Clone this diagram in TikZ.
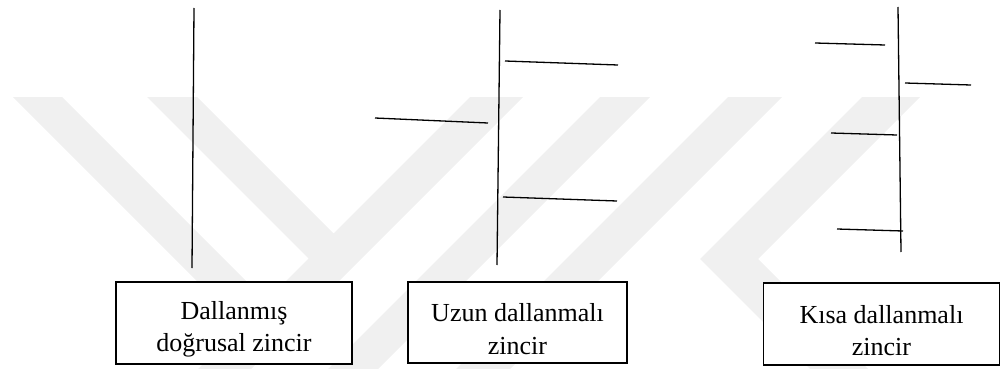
\documentclass[tikz,border=0pt]{standalone}
\usepackage{fontspec}
\setmainfont{Liberation Serif}
\newcommand\toppad{\rule{0pt}{31pt}}
\begin{document}
\begin{tikzpicture}[x=1pt,y=-1pt,
  chainline/.style={line width=1.3pt, black},
  branch/.style={line width=1.3pt, black},
  lbl/.style={draw, line width=1.8pt, fill=white, align=center, inner sep=0pt,
    font=\fontsize{26}{32.5}\selectfont},
  wm/.style={fill=black!6, draw=none}]
\useasboundingbox (0,0) rectangle (1001,369);
% faint background watermark
\fill[wm] (13,97) -- (62,97) -- (265,300) -- (216,300) -- cycle;
\fill[wm] (147,97) -- (197,97) -- (333.5,233.5) -- (470,97) -- (523,97) -- (251,369) -- (198,369) -- (308.5,258.5) -- cycle;
\fill[wm] (600,97) -- (650,97) -- (378,369) -- (328,369) -- cycle;
\fill[wm] (728,97) -- (782,97) -- (510,369) -- (456,369) -- cycle;
\fill[wm] (862,97) -- (920,97) -- (758,259) -- (868,369) -- (810,369) -- (700,259) -- cycle;

% chain 1: straight chain
\coordinate (c1t) at (194,8);
\coordinate (c1b) at (192,268);
\draw[chainline] (c1t) -- (c1b);

% chain 2: long branches
\coordinate (c2t) at (500,10);
\coordinate (c2b) at (497,265);
\draw[chainline] (c2t) -- (c2b);
\coordinate (b21a) at (505,61);  \coordinate (b21b) at (618,65);
\coordinate (b22a) at (375,118); \coordinate (b22b) at (488,123);
\coordinate (b23a) at (503,197); \coordinate (b23b) at (617,201);
\draw[branch] (b21a) -- (b21b);
\draw[branch] (b22a) -- (b22b);
\draw[branch] (b23a) -- (b23b);

% chain 3: short branches
\coordinate (c3t) at (898,7);
\coordinate (c3b) at (901,252);
\draw[chainline] (c3t) -- (c3b);
\coordinate (b31a) at (815,43);  \coordinate (b31b) at (885,45);
\coordinate (b32a) at (905,83);  \coordinate (b32b) at (971,85);
\coordinate (b33a) at (831,133); \coordinate (b33b) at (897,135);
\coordinate (b34a) at (837,229); \coordinate (b34b) at (903,231);
\draw[branch] (b31a) -- (b31b);
\draw[branch] (b32a) -- (b32b);
\draw[branch] (b33a) -- (b33b);
\draw[branch] (b34a) -- (b34b);

% label boxes
\node[lbl, minimum width=236pt, minimum height=82pt] (box1) at (234,323)
  {\toppad Dallanmış\\doğrusal zincir};
\node[lbl, minimum width=219pt, minimum height=81pt] (box2) at (517.5,322.5)
  {\toppad Uzun dallanmalı\\zincir};
\node[lbl, minimum width=236pt, minimum height=82pt] (box3) at (881.5,324)
  {\toppad Kısa dallanmalı\\zincir};
\end{tikzpicture}
\end{document}
